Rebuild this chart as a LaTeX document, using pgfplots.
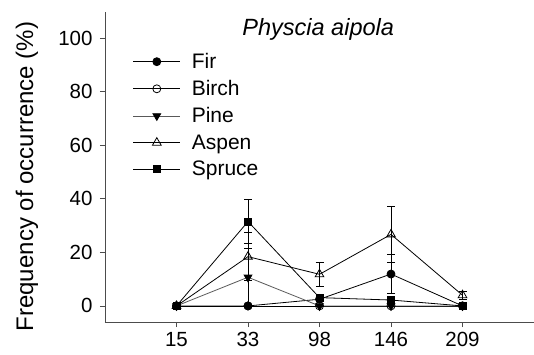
\documentclass[border=0pt]{standalone}
\usepackage{pgfplots}
\pgfplotsset{compat=1.18}
\usepackage{fontspec}
\setmainfont{Liberation Sans}
\begin{document}
\begin{tikzpicture}
\begin{axis}[
  name=ax,
  scale only axis,
  width=429pt, height=310pt,
  xmin=-1, xmax=5,
  ymin=-6, ymax=109.7,
  axis lines=left,
  axis line style={-, black!70, line width=0.8pt},
  xtick={0,1,2,3,4},
  xticklabels={15,33,98,146,209},
  ytick={0,20,40,60,80,100},
  tick align=outside,
  major tick length=5pt,
  tick style={black!70, line width=0.8pt},
  every tick label/.append style={font=\fontsize{20.5}{24}\selectfont},
  /pgf/number format/assume math mode=true,
  xticklabel style={yshift=-2pt},
  yticklabel style={xshift=-4pt},
  legend style={at={(rel axis cs:0.062,0.877)}, anchor=north west, draw=none, fill=none,
     font=\fontsize{21}{25}\selectfont, row sep=6.4pt, inner sep=1pt,
     /tikz/every odd column/.append style={column sep=9pt}},
  legend cell align=left,
  legend image code/.code={
    \draw[mark repeat=2,mark phase=2] plot coordinates {(0cm,0cm) (0.83cm,0cm) (1.66cm,0cm)};
  },
  error bars/y dir=both,
  error bars/y explicit,
  error bars/error bar style={line width=0.8pt, black},
  error bars/error mark options={rotate=90, mark size=4pt, line width=0.8pt, black},
  clip=false,
]
% Fir
\addplot[black, line width=0.8pt, mark=*, mark size=4pt, mark options={fill=black}]
  coordinates {(0,0) +- (0,0) (1,0) +- (0,0) (2,2.5) +- (0,0) (3,11.9) +- (0,7.4) (4,0) +- (0,0)};
\addlegendentry{Fir}
% Birch
\addplot[black, line width=0.8pt, mark=o, mark size=4pt, mark options={fill=white}]
  coordinates {(0,0) +- (0,0) (1,0) +- (0,0) (2,0) +- (0,0) (3,0) +- (0,0) (4,0) +- (0,0)};
\addlegendentry{Birch}
% Pine
\addplot[black!65, line width=0.8pt, mark=triangle*, mark size=4.5pt, mark options={rotate=180, fill=black, draw=black}]
  coordinates {(0,0) +- (0,0) (1,10.7) +- (0,10.7) (2,0) +- (0,0) (3,0) +- (0,0) (4,0) +- (0,0)};
\addlegendentry{Pine}
% Aspen
\addplot[black, line width=0.8pt, mark=triangle, mark size=5pt, mark options={fill=white}]
  coordinates {(0,0) +- (0,0) (1,18.4) +- (0,9.0) (2,11.8) +- (0,4.5) (3,26.7) +- (0,10.4) (4,4.0) +- (0,1.6)};
\addlegendentry{Aspen}
% Spruce
\addplot[black, line width=0.8pt, mark=square*, mark size=3.5pt, mark options={fill=black}]
  coordinates {(0,0) +- (0,0) (1,31.5) +- (0,8.3) (2,3.1) +- (0,0) (3,2.2) +- (0,1.5) (4,0) +- (0,0)};
\addlegendentry{Spruce}
\node[font=\fontsize{23.5}{27}\selectfont\itshape] at (rel axis cs:0.497,0.945) {Physcia aipola};
\node[font=\fontsize{24}{28}\selectfont, rotate=90] at (rel axis cs:-0.1818,0.469) {Frequency of occurrence (\%)};
\end{axis}
\pgfresetboundingbox
\path (ax.south west) ++(-105pt,-32pt) coordinate (bbsw);
\path (ax.north east) ++(0pt,12pt) coordinate (bbne);
\useasboundingbox (bbsw) rectangle (bbne);
\end{tikzpicture}
\end{document}
